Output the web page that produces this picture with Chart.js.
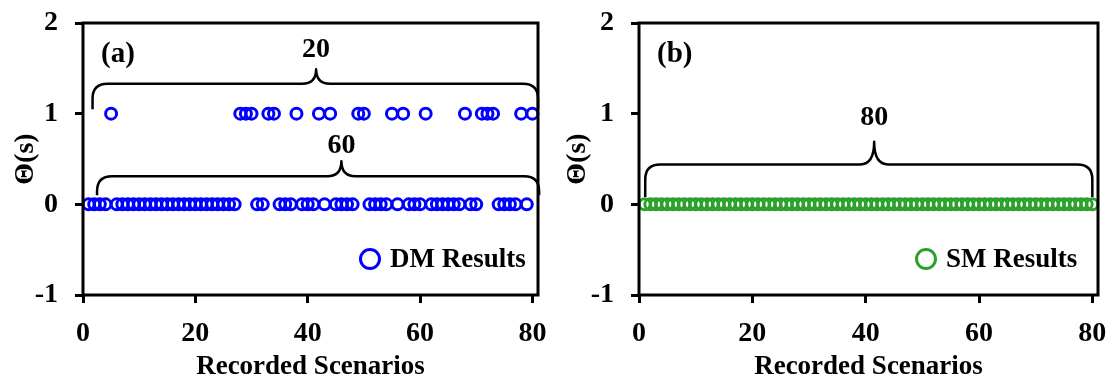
<!DOCTYPE html>
<html>
<head>
<meta charset="utf-8">
<script src="https://cdn.jsdelivr.net/npm/chart.js@4"></script>
<style>
	body { margin: 0; background: #fff; }
	#wrap { position: relative; width: 1115px; height: 379px; }
	.panel { position: absolute; top: 0; height: 379px; }
</style>
</head>
<body>
<div id="wrap">
	<div class="panel" style="left:0;width:557px"><canvas id="chartA" width="557" height="379"></canvas></div>
	<div class="panel" style="left:557px;width:558px"><canvas id="chartB" width="558" height="379"></canvas></div>
</div>
<script>
// recorded scenario index (x)
var scenarios = [
	1, 2, 3, 4, 5, 6, 7, 8, 9, 10,
	11, 12, 13, 14, 15, 16, 17, 18, 19, 20,
	21, 22, 23, 24, 25, 26, 27, 28, 29, 30,
	31, 32, 33, 34, 35, 36, 37, 38, 39, 40,
	41, 42, 43, 44, 45, 46, 47, 48, 49, 50,
	51, 52, 53, 54, 55, 56, 57, 58, 59, 60,
	61, 62, 63, 64, 65, 66, 67, 68, 69, 70,
	71, 72, 73, 74, 75, 76, 77, 78, 79, 80
];

// theta(s) for DM results, panel (a)
var dmTheta = [
	0, 0, 0, 0, 1, 0, 0, 0, 0, 0,
	0, 0, 0, 0, 0, 0, 0, 0, 0, 0,
	0, 0, 0, 0, 0, 0, 0, 1, 1, 1,
	0, 0, 1, 1, 0, 0, 0, 1, 0, 0,
	0, 1, 0, 1, 0, 0, 0, 0, 1, 1,
	0, 0, 0, 0, 1, 0, 1, 0, 0, 0,
	1, 0, 0, 0, 0, 0, 0, 1, 0, 0,
	1, 1, 1, 0, 0, 0, 0, 1, 0, 1
];

// theta(s) for SM results, panel (b)
var smTheta = [
	0, 0, 0, 0, 0, 0, 0, 0, 0, 0,
	0, 0, 0, 0, 0, 0, 0, 0, 0, 0,
	0, 0, 0, 0, 0, 0, 0, 0, 0, 0,
	0, 0, 0, 0, 0, 0, 0, 0, 0, 0,
	0, 0, 0, 0, 0, 0, 0, 0, 0, 0,
	0, 0, 0, 0, 0, 0, 0, 0, 0, 0,
	0, 0, 0, 0, 0, 0, 0, 0, 0, 0,
	0, 0, 0, 0, 0, 0, 0, 0, 0, 0
];

var xTicks = [0, 20, 40, 60, 80];
var yTicks = [-1, 0, 1, 2];

// brace annotations (data coordinates)
var bracesA = [
	{ text: "20", from: 1.7, to: 81.0, tip: 41.5, line: 1.33, peak: 1.49, end: 1.05, labelY: 1.70 },
	{ text: "60", from: 2.5, to: 81.2, tip: 46.0, line: 0.31, peak: 0.475, end: 0.10, labelY: 0.65 }
];
var bracesB = [
	{ text: "80", from: 1.1, to: 80.0, tip: 41.5, line: 0.44, peak: 0.69, end: 0.08, labelY: 0.95 }
];

var serif = "'Liberation Serif', 'Times New Roman', serif";

function toPoints(ys) {
	return scenarios.map((x, i) => ({ x: x, y: ys[i] }));
}

// frame, panel tag, braces and legend
const decoPlugin = {
	id: 'deco',
	afterDraw(chart, args, opts) {
		const ctx = chart.ctx;
		const area = chart.chartArea;
		const xs = chart.scales.x, ys = chart.scales.y;
		ctx.save();
		ctx.strokeStyle = '#000';
		ctx.lineWidth = 3;
		ctx.strokeRect(area.left, area.top, area.right - area.left, area.bottom - area.top);

		// panel tag
		ctx.fillStyle = '#000';
		ctx.font = 'bold 29px ' + serif;
		ctx.textAlign = 'left';
		ctx.textBaseline = 'middle';
		ctx.fillText(opts.tag, area.left + 18, 55);

		// braces
		ctx.lineWidth = 2.5;
		ctx.lineJoin = 'round';
		opts.braces.forEach((b) => {
			const x1 = xs.getPixelForValue(b.from), x2 = xs.getPixelForValue(b.to), xm = xs.getPixelForValue(b.tip);
			const yl = ys.getPixelForValue(b.line), yt = ys.getPixelForValue(b.peak), ye = ys.getPixelForValue(b.end);
			const r = 15, rt = 14;
			ctx.beginPath();
			ctx.moveTo(x1, ye);
			ctx.lineTo(x1, yl + r);
			ctx.quadraticCurveTo(x1, yl, x1 + r, yl);
			ctx.lineTo(xm - rt, yl);
			ctx.quadraticCurveTo(xm, yl, xm, yt);
			ctx.quadraticCurveTo(xm, yl, xm + rt, yl);
			ctx.lineTo(x2 - r, yl);
			ctx.quadraticCurveTo(x2, yl, x2, yl + r);
			ctx.lineTo(x2, ye);
			ctx.stroke();
			ctx.font = 'bold 28px ' + serif;
			ctx.textAlign = 'center';
			ctx.fillText(b.text, xm, ys.getPixelForValue(b.labelY));
		});

		// legend
		const ds = chart.data.datasets[0];
		const cx = area.left + 287, cy = 259;
		ctx.beginPath();
		ctx.arc(cx, cy, 9.5, 0, Math.PI * 2);
		ctx.strokeStyle = ds.borderColor;
		ctx.lineWidth = 3;
		ctx.stroke();
		ctx.fillStyle = '#000';
		ctx.font = 'bold 27px ' + serif;
		ctx.textAlign = 'left';
		ctx.fillText(ds.label, cx + 20, cy + 1);
		ctx.restore();
	}
};

function makeChart(canvasId, label, values, color, yWidth, rightPad, titlePad, tag, braces) {
	return new Chart(document.getElementById(canvasId), {
		type: 'scatter',
		data: {
			datasets: [{
				label: label,
				data: toPoints(values),
				borderColor: color,
				backgroundColor: 'rgba(0,0,0,0)',
				pointRadius: 5.5,
				pointBorderWidth: 3,
				pointHoverRadius: 5.5,
				showLine: false,
				clip: false
			}]
		},
		options: {
			responsive: false,
			animation: false,
			devicePixelRatio: 1,
			layout: { padding: { top: 23, right: rightPad, left: 0, bottom: 0 } },
			plugins: {
				legend: { display: false },
				tooltip: { enabled: false },
				deco: { tag: tag, braces: braces }
			},
			scales: {
				x: {
					type: 'linear',
					min: 0,
					max: 81,
					afterBuildTicks: (s) => { s.ticks = xTicks.map(v => ({ value: v })); },
					afterFit: (s) => { s.height = 84; s.paddingLeft = 0; s.paddingRight = 0; },
					border: { display: false },
					grid: { drawOnChartArea: false, drawTicks: true, tickLength: 8, tickWidth: 3, tickColor: '#000' },
					ticks: { color: '#000', padding: 14, maxRotation: 0, font: { family: serif, size: 28, weight: 'bold' } },
					title: {
						display: true,
						text: 'Recorded Scenarios',
						color: '#000',
						padding: { top: 0, bottom: 0 },
						font: { family: serif, size: 27, weight: 'bold', lineHeight: 0.85 }
					}
				},
				y: {
					min: -1,
					max: 2,
					afterBuildTicks: (s) => { s.ticks = yTicks.map(v => ({ value: v })); },
					afterFit: (s) => { s.width = yWidth; s.paddingTop = 0; s.paddingBottom = 0; },
					border: { display: false },
					grid: { drawOnChartArea: false, drawTicks: true, tickLength: 8, tickWidth: 3, tickColor: '#000' },
					ticks: { color: '#000', padding: 17, font: { family: serif, size: 28, weight: 'bold' } },
					title: {
						display: true,
						text: 'Θ(s)',
						color: '#000',
						padding: { top: titlePad, bottom: 0 },
						font: { family: serif, size: 28, weight: 'bold' }
					}
				}
			}
		},
		plugins: [decoPlugin]
	});
}

var chartA = makeChart('chartA', 'DM Results', dmTheta, '#0000ff', 83, 19, 9, '(a)', bracesA);
var chartB = makeChart('chartB', 'SM Results', smTheta, '#2ca02c', 82, 17, 4, '(b)', bracesB);
</script>
</body>
</html>
